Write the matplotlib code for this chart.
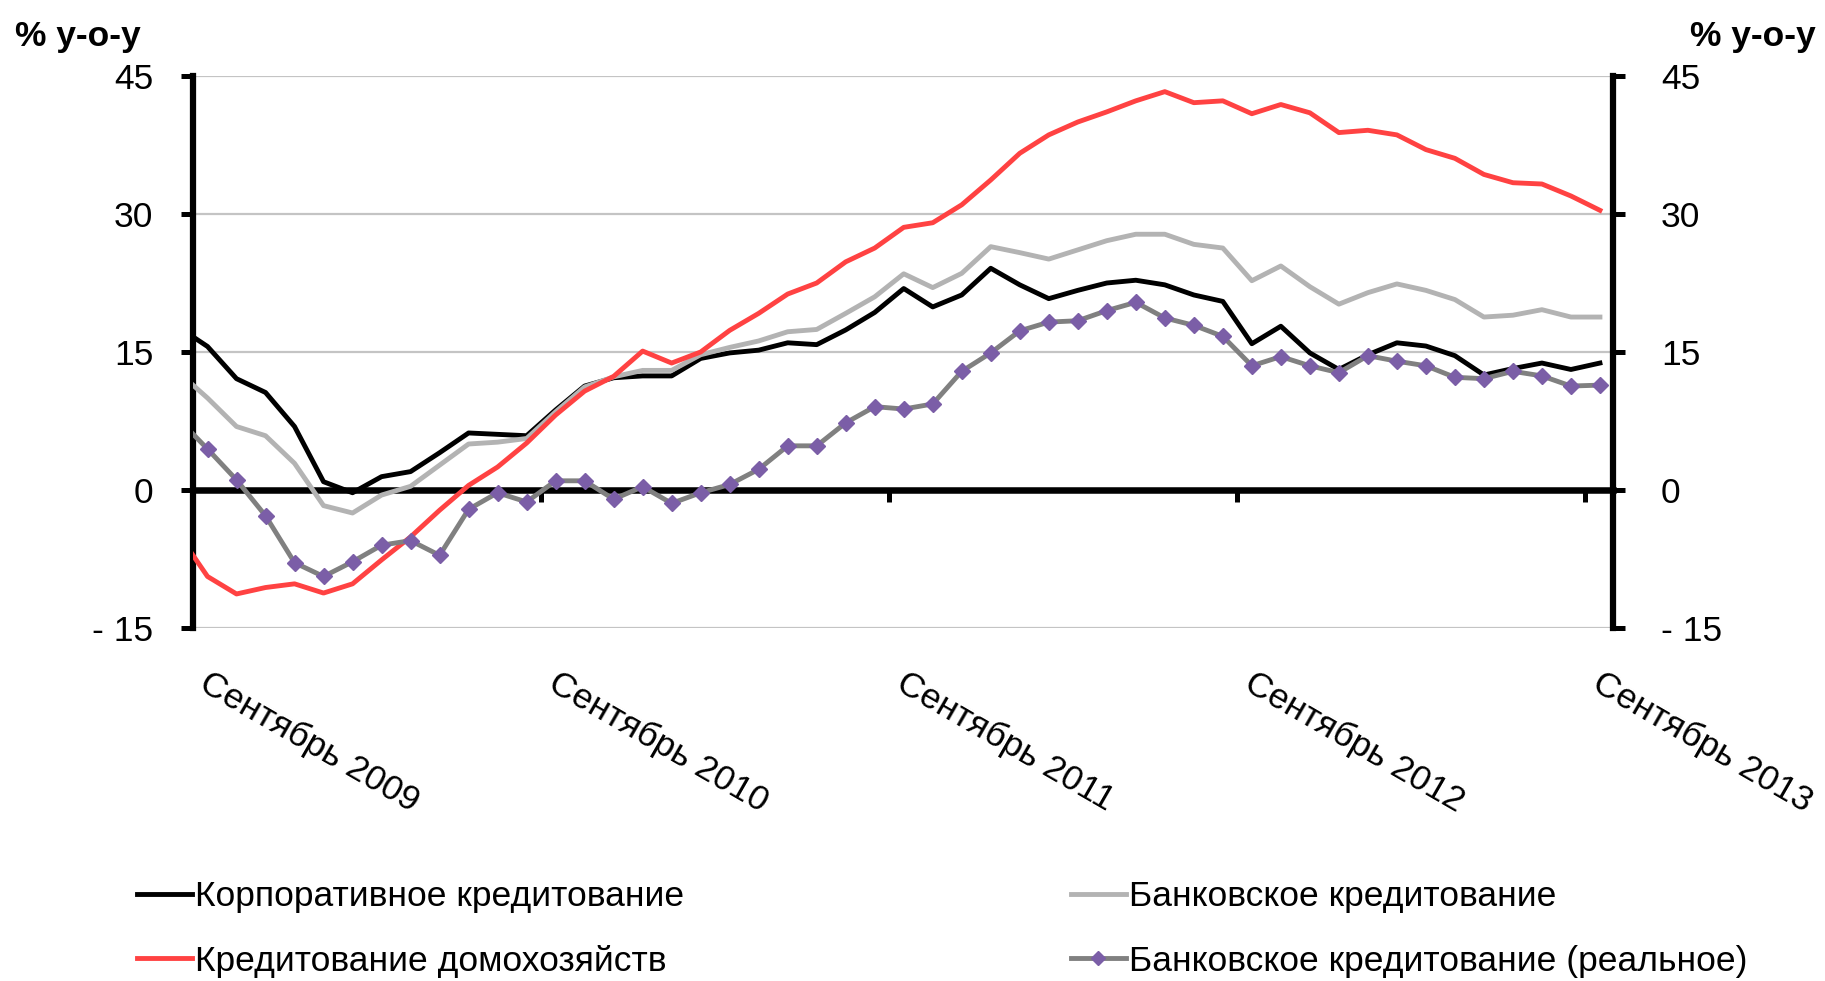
import matplotlib

matplotlib.use("Agg")
import matplotlib.pyplot as plt
import matplotlib.transforms as mtransforms
from matplotlib import font_manager
from matplotlib.lines import Line2D
import numpy as np
import pandas as pd

# narrow font if there is one, otherwise Liberation Sans a bit smaller
_avail = {f.name for f in font_manager.fontManager.ttflist}
if "Liberation Sans Narrow" in _avail:
    plt.rcParams["font.family"] = ["Liberation Sans Narrow", "DejaVu Sans"]
    FS = 27
else:
    plt.rcParams["font.family"] = ["Liberation Sans", "DejaVu Sans"]
    FS = 25.5

# monthly data, Aug 2009 .. Sep 2013 (Aug 2009 is cut off by the axis)
months = pd.date_range("2009-08-01", periods=50, freq="MS")
corp = [17.7, 15.6, 12.1, 10.6, 6.9, 0.9, -0.3, 1.45, 2.0, 4.05, 6.2,
        6.05, 5.9, 8.7, 11.3, 12.2, 12.4, 12.4, 14.3, 14.9, 15.2,
        16.0, 15.8, 17.4, 19.3, 21.9, 19.9, 21.2, 24.1, 22.3, 20.8,
        21.7, 22.5, 22.8, 22.3, 21.2, 20.5, 15.9, 17.8, 14.9, 13.1,
        14.7, 16.0, 15.65, 14.6, 12.5, 13.2, 13.8, 13.1, 13.8]
bank = [12.8, 10.0, 6.9, 5.9, 2.9, -1.7, -2.5, -0.55, 0.4, 2.7, 5.0,
        5.2, 5.6, 8.5, 11.2, 12.3, 13.0, 13.0, 14.7, 15.5, 16.2,
        17.2, 17.45, 19.2, 21.0, 23.5, 22.0, 23.55, 26.45, 25.8, 25.1,
        26.1, 27.1, 27.8, 27.8, 26.7, 26.3, 22.75, 24.35, 22.1, 20.2,
        21.45, 22.4, 21.7, 20.7, 18.8, 19.0, 19.6, 18.8, 18.8]
households = [-4.8, -9.4, -11.3, -10.6, -10.2, -11.2, -10.2, -7.6, -5.1,
              -2.2, 0.5, 2.5, 5.1, 8.15, 10.75, 12.35, 15.1, 13.8, 15.0,
              17.35, 19.2, 21.3, 22.5, 24.8, 26.3, 28.55, 29.05, 31.0,
              33.7, 36.6, 38.6, 40.0, 41.1, 42.3, 43.3, 42.1, 42.3, 40.9,
              41.9, 41.0, 38.85, 39.1, 38.6, 37.0, 36.05, 34.3, 33.4,
              33.26, 31.96, 30.4]
bank_real = [7.7, 4.46, 1.1, -2.8, -7.9, -9.4, -7.8, -6.0, -5.5, -7.1,
             -2.1, -0.3, -1.3, 1.0, 1.0, -1.0, 0.36, -1.45, -0.3, 0.6,
             2.25, 4.8, 4.8, 7.3, 9.06, 8.8, 9.35, 12.9, 14.9, 17.3,
             18.25, 18.4, 19.5, 20.4, 18.7, 17.9, 16.7, 13.5, 14.5, 13.5,
             12.75, 14.6, 14.0, 13.5, 12.25, 12.1, 12.9, 12.4, 11.3, 11.4]

names = ["Корпоративное кредитование", "Банковское кредитование",
         "Кредитование домохозяйств", "Банковское кредитование (реальное)"]
y_ticks = [-15, 0, 15, 30, 45]
y_ticklabels = ["- 15", "0", "15", "30", "45"]
unit = "% y-o-y"

LW = 3.5
fig = plt.figure(figsize=(18.25, 9.81), dpi=100)
ax = fig.add_axes([193 / 1825, 1 - 628 / 981, 1420 / 1825, 552 / 981])

x = np.arange(len(months)) - 1          # Sep 2009 -> 0
l_corp, = ax.plot(x, corp, color="black", lw=LW, zorder=3)
l_bank, = ax.plot(x, bank, color="#b3b3b3", lw=LW, zorder=3)
l_house, = ax.plot(x, households, color="#ff4242", lw=LW, zorder=3)
l_real, = ax.plot(x, bank_real, color="#808080", lw=LW, marker="D", ms=8.5,
                  mfc="#7b5ea7", mec="#7b5ea7", zorder=4)

ax.set_xlim(-0.47, 48.45)
ax.set_ylim(-15, 45)
ax.set_yticks(y_ticks)
ax.set_yticklabels(y_ticklabels, fontsize=FS)
ax.yaxis.grid(True, color="#c4c4c4", lw=1.6)
ax.set_axisbelow(True)

# september boundaries
sept = [(xi, m) for xi, m in zip(x, months) if m.month == 9]
bounds = [xi - 0.5 for xi, _ in sept]
ax.set_xticks(bounds)
ax.tick_params(axis="x", direction="out", length=8.5, width=3.6,
               labelbottom=False)
ax.tick_params(axis="y", direction="out", length=8.5, width=3.6, pad=20)

ax.spines["bottom"].set_position(("data", 0))
ax.spines["bottom"].set_linewidth(4.7)
ax.spines["left"].set_linewidth(4.5)
ax.spines["top"].set_visible(False)
ax.spines["right"].set_visible(False)

ax2 = ax.twinx()
ax2.set_ylim(-15, 45)
ax2.set_yticks(y_ticks)
ax2.set_yticklabels(y_ticklabels, fontsize=FS)
ax2.tick_params(axis="y", direction="out", length=8.5, width=3.6, pad=26)
for s in ("left", "top", "bottom"):
    ax2.spines[s].set_visible(False)
ax2.spines["right"].set_linewidth(4.5)

lab_tr = mtransforms.offset_copy(ax.get_xaxis_transform(), fig=fig,
                                 x=18, y=-38, units="dots")
for b, (xi, m) in zip(bounds, sept):
    ax.text(b, 0, f"Сентябрь {m.year}", transform=lab_tr, fontsize=FS,
            rotation=-30, rotation_mode="anchor", ha="left", va="top")

fig.text(15 / 1825, 1 - 20 / 981, unit, fontsize=FS, weight="bold",
         ha="left", va="top")
fig.text(1816 / 1825, 1 - 20 / 981, unit, fontsize=FS, weight="bold",
         ha="right", va="top")

leg_kw = dict(loc="upper left", frameon=False, fontsize=FS,
              handlelength=1.55, handletextpad=0.1, labelspacing=0.9,
              borderpad=0, borderaxespad=0)
h_real = Line2D([], [], color="#808080", lw=LW, marker="D", ms=7,
                mfc="#7b5ea7", mec="#7b5ea7")
fig.legend([l_corp, l_house], [names[0], names[2]],
           bbox_to_anchor=(137 / 1825, 1 - 880 / 981), **leg_kw)
fig.legend([l_bank, h_real], [names[1], names[3]],
           bbox_to_anchor=(1071 / 1825, 1 - 880 / 981), **leg_kw)

fig.savefig("out.png", dpi=100)
